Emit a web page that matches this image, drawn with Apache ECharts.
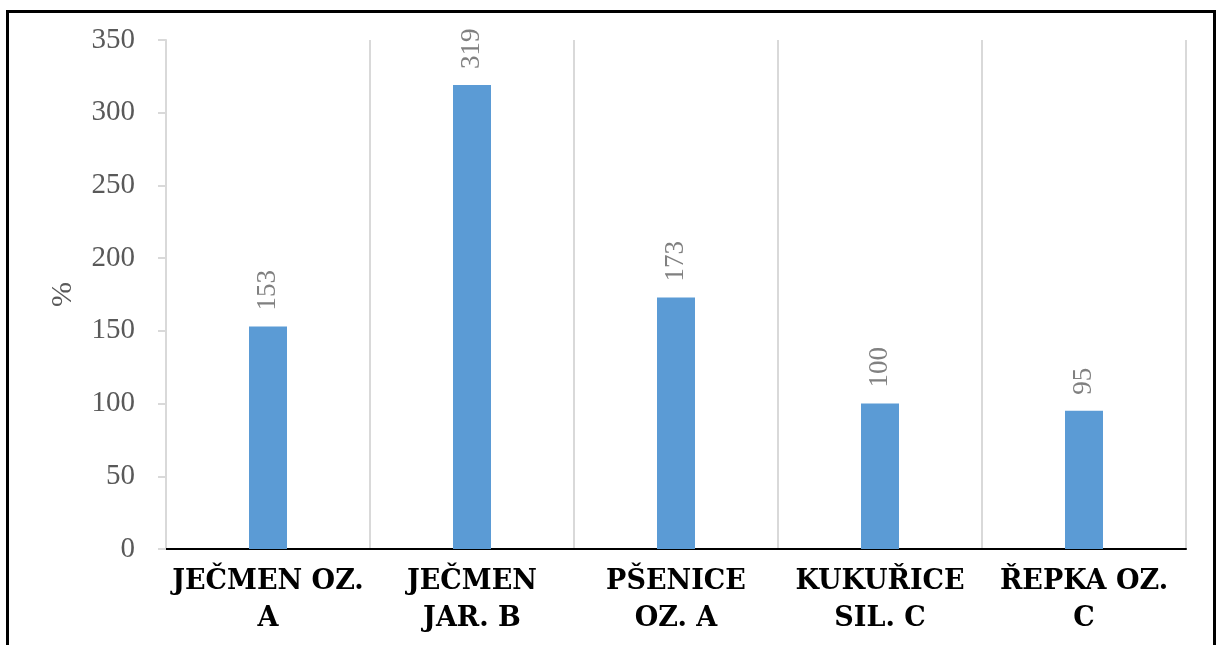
<!DOCTYPE html>
<html lang="cs">
<head>
    <meta charset="UTF-8">
    <script src="https://cdn.jsdelivr.net/npm/echarts@6/dist/echarts.min.js"></script>
    <style>
        html, body { margin: 0; padding: 0; background: #fff; }
        #frame { position: absolute; left: 6px; top: 10px; width: 1210px; height: 660px; border: 3px solid #000; box-sizing: border-box; }
        #main { position: absolute; left: 0; top: 0; width: 1222px; height: 645px; }
    </style>
</head>
<body>
<div id="frame"></div>
<div id="main"></div>
<script>
    // plodiny a hodnoty (%)
    var categories = ['JEČMEN OZ.\nA', 'JEČMEN\nJAR. B', 'PŠENICE\nOZ. A', 'KUKUŘICE\nSIL. C', 'ŘEPKA OZ.\nC'];
    var values = [153, 319, 173, 100, 95];
    var yTicks = { min: 0, max: 350, step: 50 };

    var myChart = echarts.init(document.getElementById('main'));
    var option = {
        animation: false,
        grid: { left: 166, right: 36, top: 40, bottom: 96 },
        xAxis: {
            type: 'category',
            data: categories,
            axisLine: { lineStyle: { color: '#000', width: 2 } },
            axisTick: { show: false },
            splitLine: { show: true, lineStyle: { color: '#d9d9d9', width: 2 } },
            axisLabel: {
                color: '#000',
                fontFamily: 'DejaVu Serif',
                fontWeight: 'bold',
                fontSize: 27,
                lineHeight: 37,
                margin: 14,
                interval: 0
            }
        },
        yAxis: {
            type: 'value',
            min: yTicks.min,
            max: yTicks.max,
            interval: yTicks.step,
            name: '%',
            nameLocation: 'middle',
            nameGap: 88,
            nameTextStyle: { fontFamily: 'Liberation Serif', fontSize: 30, color: '#595959' },
            axisLine: { show: true, lineStyle: { color: '#d9d9d9', width: 2 } },
            axisTick: { show: true, length: 8, lineStyle: { color: '#d9d9d9', width: 2 } },
            splitLine: { show: false },
            axisLabel: { fontFamily: 'Liberation Serif', fontSize: 29, color: '#595959', margin: 31 }
        },
        series: [{
            type: 'bar',
            data: values,
            barWidth: 38,
            itemStyle: { color: '#5b9bd5' },
            label: {
                show: true,
                position: 'top',
                rotate: 90,
                align: 'left',
                verticalAlign: 'middle',
                distance: 16,
                fontFamily: 'Liberation Serif',
                fontSize: 27,
                color: '#808080'
            }
        }]
    };
    myChart.setOption(option);
</script>
</body>
</html>
